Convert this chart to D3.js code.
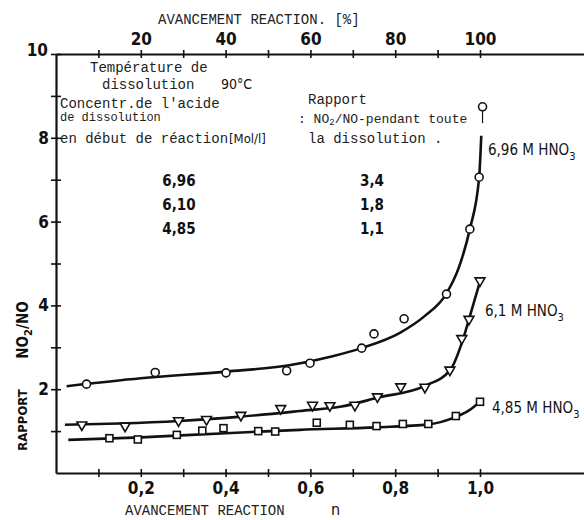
<!DOCTYPE html>
<html>
<head>
<meta charset="utf-8">
<script src="https://cdn.jsdelivr.net/npm/d3@7"></script>
<style>
  body { margin: 0; background: #fff; }
  .mono { font-family: "Liberation Mono", "DejaVu Sans Mono", monospace; fill: #222; }
  .cond { font-family: "DejaVu Sans Condensed", "DejaVu Sans", sans-serif; font-stretch: condensed; fill: #111; }
</style>
</head>
<body>
<div id="chart"></div>
<script>
// measured points (n, NO2/NO) for each acid concentration
var pts696 = [[0.072, 2.12], [0.234, 2.40], [0.401, 2.39], [0.544, 2.44], [0.599, 2.62], [0.721, 2.98],
  [0.750, 3.32], [0.821, 3.68], [0.921, 4.27], [0.976, 5.82], [0.998, 7.06], [1.006, 8.74]];
var pts610 = [[0.061, 1.15], [0.163, 1.12], [0.289, 1.25], [0.355, 1.28], [0.436, 1.38], [0.530, 1.54],
  [0.605, 1.62], [0.646, 1.61], [0.705, 1.62], [0.758, 1.82], [0.813, 2.06], [0.870, 2.05],
  [0.929, 2.46], [0.957, 3.21], [0.974, 3.67], [1.000, 4.59]];
var pts485 = [[0.126, 0.83], [0.193, 0.80], [0.285, 0.91], [0.345, 1.01], [0.395, 1.07], [0.477, 1.00],
  [0.517, 0.99], [0.615, 1.20], [0.693, 1.15], [0.756, 1.12], [0.818, 1.17], [0.878, 1.17],
  [0.943, 1.36], [1.000, 1.70]];

// fitted curves drawn through the points
var fit696 = [[0.025, 2.07], [0.2, 2.26], [0.4, 2.42], [0.55, 2.57], [0.65, 2.78], [0.72, 2.98], [0.81, 3.34],
  [0.87, 3.75], [0.92, 4.27], [0.95, 4.9], [0.976, 5.82], [0.998, 7.06], [1.003, 8.05]];
var fit610 = [[0.021, 1.15], [0.15, 1.18], [0.29, 1.24], [0.43, 1.34], [0.575, 1.48], [0.67, 1.58],
  [0.76, 1.80], [0.87, 2.08], [0.93, 2.46], [0.957, 3.1], [0.976, 3.74], [1.0, 4.57]];
var fit485 = [[0.029, 0.79], [0.2, 0.85], [0.4, 0.95], [0.575, 1.03], [0.756, 1.09], [0.878, 1.16],
  [0.943, 1.34], [0.975, 1.5], [1.0, 1.7]];

var curveLabels = ["6,96 M HNO", "6,1 M HNO", "4,85 M HNO"];
var concValues = ["6,96", "6,10", "4,85"];
var ratioValues = ["3,4", "1,8", "1,1"];

var xTicks = [0.1, 0.2, 0.3, 0.4, 0.5, 0.6, 0.7, 0.8, 0.9, 1.0];
var topTicks = [10, 20, 30, 40, 50, 60, 70, 80, 90, 100];
var yTicks = [1, 2, 3, 4, 5, 6, 7, 8, 9, 10];

var svgWidth = 584;
var svgHeight = 520;
var margin = { top: 54, right: 0, bottom: 47, left: 56 };
var width = svgWidth - margin.left - margin.right;
var height = svgHeight - margin.top - margin.bottom;

var svg = d3.select("#chart")
  .append("svg")
  .attr("width", svgWidth)
  .attr("height", svgHeight);

var chartGroup = svg.append("g")
  .attr("transform", `translate(${margin.left}, ${margin.top})`);

// scales: 424px per unit of n, axis runs past 1.0 to the page edge
var xScale = d3.scaleLinear().domain([0, width / 424]).range([0, width]);
var xTopScale = d3.scaleLinear().domain([0, width / 4.24]).range([0, width]);
var yScale = d3.scaleLinear().domain([0, 10]).range([height, 0]);

var comma = function (d) { return d3.format(".1f")(d).replace(".", ","); };

// axes
var bottomAxis = d3.axisBottom(xScale).tickValues(xTicks).tickSize(4).tickSizeOuter(0).tickPadding(5)
  .tickFormat(function (d) { return Math.round(d * 10) % 2 === 0 ? comma(d) : ""; });
var topAxis = d3.axisTop(xTopScale).tickValues(topTicks).tickSize(4).tickSizeOuter(0).tickPadding(5)
  .tickFormat(function (d) { return d % 20 === 0 ? d : ""; });
var leftAxis = d3.axisLeft(yScale).tickValues(yTicks).tickSize(5).tickSizeOuter(0).tickPadding(2)
  .tickFormat(function (d) { return d % 2 === 0 ? d : ""; });

var gx = chartGroup.append("g").attr("transform", `translate(0, ${height})`).call(bottomAxis);
gx.selectAll(".tick line").attr("y1", -4);
var gt = chartGroup.append("g").call(topAxis);
gt.selectAll(".tick line").attr("y1", 4);
var gy = chartGroup.append("g").call(leftAxis);
gy.selectAll(".tick line").attr("x1", 5);
gy.selectAll(".tick").filter(function (d) { return d === 10; }).select("text").attr("dy", "0.1em").attr("x", -8);

[gx, gt, gy].forEach(function (g) {
  g.select(".domain").attr("stroke", "#111").attr("stroke-width", 2.2);
  g.selectAll(".tick line").attr("stroke", "#111").attr("stroke-width", 1.6);
  g.selectAll(".tick text").attr("class", "cond").attr("font-size", 17).attr("font-weight", "bold");
});

// fitted curves
var line = d3.line()
  .x(function (d) { return xScale(d[0]); })
  .y(function (d) { return yScale(d[1]); })
  .curve(d3.curveMonotoneX);

[fit696, fit610, fit485].forEach(function (f) {
  chartGroup.append("path")
    .datum(f)
    .attr("d", line)
    .attr("fill", "none")
    .attr("stroke", "#111")
    .attr("stroke-width", 2.6);
});

// stem above the last 6,96 point
chartGroup.append("line")
  .attr("x1", xScale(1.006)).attr("x2", xScale(1.006))
  .attr("y1", yScale(8.74) + 4).attr("y2", yScale(8.35))
  .attr("stroke", "#111").attr("stroke-width", 1.2);

// markers
chartGroup.selectAll(".c696")
  .data(pts696)
  .enter()
  .append("circle")
  .attr("cx", function (d) { return xScale(d[0]); })
  .attr("cy", function (d) { return yScale(d[1]); })
  .attr("r", 4)
  .attr("fill", "#fff")
  .attr("stroke", "#111")
  .attr("stroke-width", 1.6);

var tri = d3.symbol().type(d3.symbolTriangle).size(42);
chartGroup.selectAll(".t610")
  .data(pts610)
  .enter()
  .append("path")
  .attr("d", tri)
  .attr("transform", function (d) { return `translate(${xScale(d[0])}, ${yScale(d[1])}) rotate(180)`; })
  .attr("fill", "#fff")
  .attr("stroke", "#111")
  .attr("stroke-width", 1.6);

chartGroup.selectAll(".s485")
  .data(pts485)
  .enter()
  .append("rect")
  .attr("x", function (d) { return xScale(d[0]) - 3.5; })
  .attr("y", function (d) { return yScale(d[1]) - 3.5; })
  .attr("width", 7)
  .attr("height", 7)
  .attr("fill", "#fff")
  .attr("stroke", "#111")
  .attr("stroke-width", 1.6);

// curve labels
var labelPos = [[488, 155], [485, 316], [492, 413]];
curveLabels.forEach(function (t, i) {
  var tx = svg.append("text").attr("class", "cond").attr("font-size", 15)
    .attr("x", labelPos[i][0]).attr("y", labelPos[i][1]).text(t);
  tx.append("tspan").attr("dy", 5).attr("font-size", 11).text("3");
});

// axis titles
svg.append("text").attr("class", "mono").attr("font-size", 14)
  .attr("x", 158).attr("y", 24).text("AVANCEMENT REACTION. [%]");
svg.append("text").attr("class", "mono").attr("font-size", 14)
  .attr("x", 125).attr("y", 515).text("AVANCEMENT REACTION");
svg.append("text").attr("class", "cond").attr("font-size", 16)
  .attr("x", 331).attr("y", 515).text("n");

svg.append("text").attr("class", "cond").attr("font-size", 13).attr("font-weight", "bold")
  .attr("transform", "translate(27, 420) rotate(-90)").attr("text-anchor", "middle").text("RAPPORT");
var yt2 = svg.append("text").attr("class", "cond").attr("font-size", 15).attr("font-weight", "bold")
  .attr("transform", "translate(28, 330) rotate(-90)").attr("text-anchor", "middle").text("NO");
yt2.append("tspan").attr("dy", 4).attr("font-size", 11).text("2");
yt2.append("tspan").attr("dy", -4).text("/NO");

// annotation block
var notes = [
  ["Température de", 90, 72, 14],
  ["dissolution", 102, 89, 14],
  ["Concentr.de l'acide", 60, 108, 14],
  ["de dissolution", 60, 121, 12],
  ["en début de réaction", 60, 143, 14],
  ["Rapport", 308, 104, 14],
  ["la dissolution .", 308, 143, 14]
];
notes.forEach(function (n) {
  svg.append("text").attr("class", "mono").attr("font-size", n[3])
    .attr("x", n[1]).attr("y", n[2]).text(n[0]);
});
svg.append("text").attr("class", "cond").attr("font-size", 14).attr("x", 221).attr("y", 89).text("90°C");
svg.append("text").attr("class", "cond").attr("font-size", 13).attr("x", 229).attr("y", 143).text("[Mol/l]");
var r2 = svg.append("text").attr("class", "mono").attr("font-size", 13).attr("x", 298).attr("y", 123).text(":  NO");
r2.append("tspan").attr("dy", 2).attr("font-size", 9).text("2");
r2.append("tspan").attr("dy", -2).text("/NO-pendant toute");

concValues.forEach(function (v, i) {
  svg.append("text").attr("class", "cond").attr("font-size", 15).attr("font-weight", "bold")
    .attr("x", 179).attr("y", 186 + i * 24).attr("text-anchor", "middle").text(v);
});
ratioValues.forEach(function (v, i) {
  svg.append("text").attr("class", "cond").attr("font-size", 15).attr("font-weight", "bold")
    .attr("x", 372).attr("y", 186 + i * 24).attr("text-anchor", "middle").text(v);
});
</script>
</body>
</html>
